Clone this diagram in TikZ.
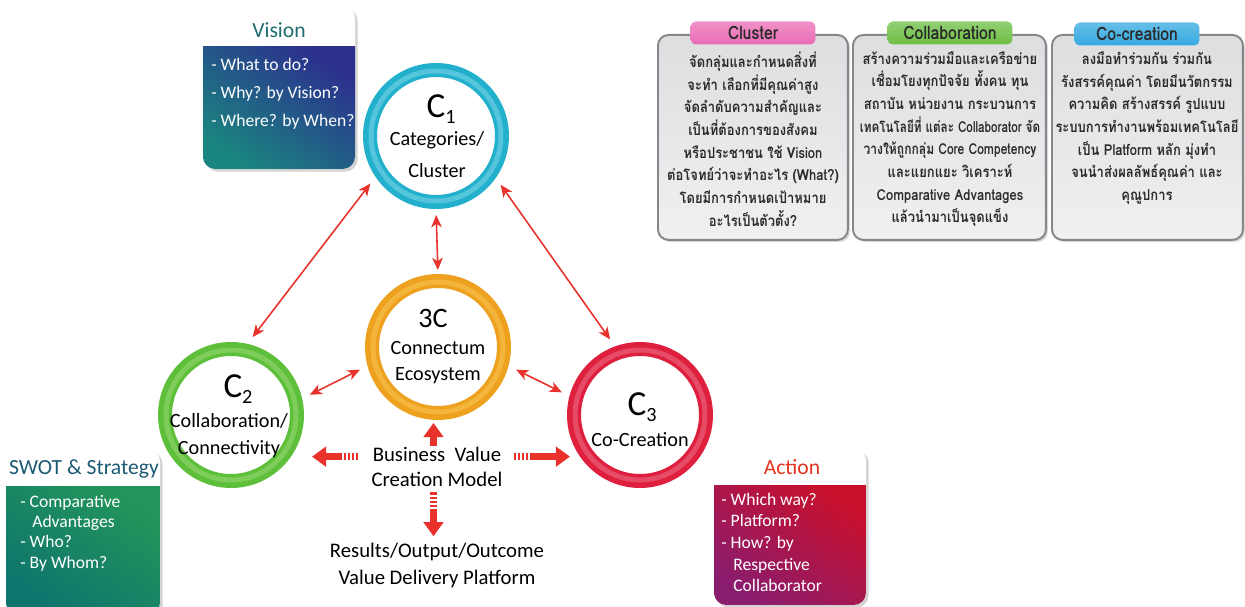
\documentclass[tikz,border=0pt]{standalone}
\usepackage{fontspec}
\setmainfont{Carlito}
\newfontfamily\thaifont[Script=Thai, FakeStretch=0.86]{Loma}
\usetikzlibrary{positioning,arrows.meta,shadows}

\definecolor{arrowred}{HTML}{E8322B}
\definecolor{cyanring}{HTML}{22B0CC}
\definecolor{cyanlight}{HTML}{7FD8EA}
\definecolor{orangering}{HTML}{EDA11E}
\definecolor{orangelight}{HTML}{FAC757}
\definecolor{greenring}{HTML}{5DBF3A}
\definecolor{greenlight}{HTML}{9AD874}
\definecolor{redring}{HTML}{DF1F3E}
\definecolor{redlight}{HTML}{EE7288}
\definecolor{visiontop}{HTML}{2C2F8E}
\definecolor{visionbot}{HTML}{1A8580}
\definecolor{visionhead}{HTML}{1F6D6F}
\definecolor{swottop}{HTML}{23955A}
\definecolor{swotbot}{HTML}{0E746E}
\definecolor{swothead}{HTML}{1D5A74}
\definecolor{actiontop}{HTML}{C8102C}
\definecolor{actionbot}{HTML}{8A1C6E}
\definecolor{actionhead}{HTML}{E4341E}
\definecolor{tabpink}{HTML}{EA6CB5}
\definecolor{tabgreen}{HTML}{6DBF43}
\definecolor{tabcyan}{HTML}{34A9E0}
\definecolor{panelfill}{HTML}{DDDEE0}
\definecolor{paneledge}{HTML}{85878A}
\definecolor{thaitext}{HTML}{2A2A2A}

\begin{document}
\begin{tikzpicture}[x=0.02cm, y=-0.02cm,
  ring/.style={circle, minimum size=2.64cm, line width=0.28cm, inner sep=0pt},
  ringglow/.style={line width=0.1cm, opacity=0.55},
  ringtxt/.style={font=\fontsize{11.5}{13}\selectfont, anchor=base, inner sep=0pt},
  link/.style={draw=arrowred, line width=0.9pt,
    {Stealth[length=7pt,width=6pt,inset=2pt]}-{Stealth[length=7pt,width=6pt,inset=2pt]},
    shorten <=0.17cm, shorten >=0.17cm},
  fatarrow/.style={draw=arrowred, line width=3.6pt, -{Triangle[length=8pt,width=11pt]},
    dash pattern=on 1.2pt off 1.2pt on 1.2pt off 1.2pt on 1.2pt off 1.2pt on 1.2pt off 1.2pt on 100pt off 0pt},
  midtxt/.style={font=\fontsize{11.8}{14}\selectfont, anchor=base, inner sep=0pt},
  infobox/.style={fill=white, rounded corners=7pt,
    drop shadow={shadow xshift=1.5pt, shadow yshift=-1.5pt, opacity=0.35}},
  infohead/.style={font=\fontsize{12.3}{14}\selectfont, anchor=base, inner sep=0pt},
  infoline/.style={font=\fontsize{10}{12}\selectfont, text=white, anchor=base west, inner sep=0pt},
  panel/.style={draw=paneledge, line width=1.1pt, rounded corners=6pt,
    top color=panelfill, bottom color=panelfill!45!white, anchor=north west,
    minimum height=4.1cm, drop shadow={shadow xshift=1.2pt, shadow yshift=-1.2pt, opacity=0.3}},
  tab/.style={minimum width=2.5cm, minimum height=0.46cm, rounded corners=3pt, inner sep=0pt,
    text=thaitext, font=\thaifont\bfseries\fontsize{10.5}{12}\selectfont},
  paneltxt/.style={font=\thaifont\bfseries\fontsize{8.6}{12.9}\selectfont, text=thaitext,
    align=center, inner sep=0pt},
]
\useasboundingbox (0,0) rectangle (1245,607);

% Info boxes
\path[infobox] (203,6) rectangle (355,169);
\begin{scope}
  \clip[rounded corners=7pt] (203,6) rectangle (355,169);
  \shade[top color=visiontop, bottom color=visionbot, shading angle=-35] (203,47) rectangle (355,169);
\end{scope}
\node[infohead, text=visionhead] (visionhd) at (279,38) {Vision};
\node[infoline] (vision1) at (211,71) {- What to do?};
\node[infoline] (vision2) at (211,99) {- Why? by Vision?};
\node[infoline] (vision3) at (211,127) {- Where? by When?};

\path[infobox] (6,449) rectangle (160,615);
\begin{scope}
  \clip[rounded corners=7pt] (6,449) rectangle (160,615);
  \shade[top color=swottop, bottom color=swotbot, shading angle=-35] (6,487) rectangle (160,615);
\end{scope}
\node[infohead, text=swothead] (swothd) at (84,475) {SWOT \& Strategy};
\node[infoline] (swot1) at (20,508) {- Comparative};
\node[infoline] (swot2) at (32,528) {Advantages};
\node[infoline] (swot3) at (20,548) {- Who?};
\node[infoline] (swot4) at (20,569) {- By Whom?};

\path[infobox] (714,448) rectangle (866,605);
\begin{scope}
  \clip[rounded corners=7pt] (714,448) rectangle (866,605);
  \shade[top color=actiontop, bottom color=actionbot, shading angle=-35] (714,486) rectangle (866,605);
\end{scope}
\node[infohead, text=actionhead] (actionhd) at (792,475) {Action};
\node[infoline] (action1) at (721,506) {- Which way?};
\node[infoline] (action2) at (721,527) {- Platform?};
\node[infoline] (action3) at (721,549) {- How? by};
\node[infoline] (action4) at (733,571) {Respective};
\node[infoline] (action5) at (733,592) {Collaborator};

% Thai panels
\node[panel, minimum width=3.8cm] (clusterpanel) at (657,34) {};
\node[panel, minimum width=3.86cm] (collabpanel) at (852,34) {};
\node[panel, minimum width=3.82cm] (copanel) at (1051,34) {};
\node[tab, top color=tabpink!75!white, bottom color=tabpink] (clustertab) at (753,33) {Cluster};
\node[tab, top color=tabgreen!75!white, bottom color=tabgreen] (collabtab) at (950,33) {Collaboration};
\node[tab, top color=tabcyan!75!white, bottom color=tabcyan] (cotab) at (1137,34) {Co-creation};

\node[paneltxt] (clustertxt) at (753,139) {จัดกลุ่มและกำหนดสิ่งที่\\ จะทำ เลือกที่มีคุณค่าสูง\\
  จัดลำดับความสำคัญและ\\ เป็นที่ต้องการของสังคม\\ หรือประชาชน ใช้ Vision\\
  ต่อโจทย์ว่าจะทำอะไร (What?)\\ โดยมีการกำหนดเป้าหมาย\\ อะไรเป็นตัวตั้ง?};
\node[paneltxt] (collabtxt) at (950,139) {สร้างความร่วมมือและเครือข่าย\\ เชื่อมโยงทุกปัจจัย ทั้งคน ทุน\\
  สถาบัน หน่วยงาน กระบวนการ\\ \scalebox{0.9}[1]{เทคโนโลยีที่ แต่ละ Collaborator จัด}\\
  \scalebox{0.93}[1]{วางให้ถูกกลุ่ม Core Competency}\\
  และแยกแยะ วิเคราะห์\\ Comparative Advantages\\ แล้วนำมาเป็นจุดแข็ง};
\node[paneltxt] (cotxt) at (1147,128) {ลงมือทำร่วมกัน ร่วมกัน\\ รังสรรค์คุณค่า โดยมีนวัตกรรม\\
  ความคิด สร้างสรรค์ รูปแบบ\\ ระบบการทำงานพร้อมเทคโนโลยี\\ เป็น Platform หลัก มุ่งทำ\\
  จนนำส่งผลลัพธ์คุณค่า และ\\ คุณูปการ};

% Rings
\node[ring, draw=cyanring] (c1) at (436,136) {};
\node[ring, draw=orangering] (cc) at (438,347) {};
\node[ring, draw=greenring] (c2) at (231,415) {};
\node[ring, draw=redring] (c3) at (640,415) {};
\draw[ringglow, cyanlight] (c1.center) circle[radius=1.3cm];
\draw[ringglow, orangelight] (cc.center) circle[radius=1.3cm];
\draw[ringglow, greenlight] (c2.center) circle[radius=1.3cm];
\draw[ringglow, redlight] (c3.center) circle[radius=1.3cm];

% Ring labels
\node[ringtxt] (c1num) at (441,118) {{\fontsize{20}{20}\selectfont C}\raisebox{-3pt}{1}};
\node[ringtxt] (c1l1) at (437,146) {Categories/};
\node[ringtxt] (c1l2) at (437,178) {Cluster};
\node[ringtxt] (ccnum) at (433,328) {\fontsize{16}{16}\selectfont 3C};
\node[ringtxt] (ccl1) at (438,355) {Connectum};
\node[ringtxt] (ccl2) at (438,381) {Ecosystem};
\node[ringtxt] (c2num) at (238,398) {{\fontsize{20}{20}\selectfont C}\raisebox{-3pt}{2}};
\node[ringtxt] (c2l1) at (229,428) {Collaboration/};
\node[ringtxt] (c2l2) at (229,455) {Connectivity};
\node[ringtxt] (c3num) at (642,416) {{\fontsize{20}{20}\selectfont C}\raisebox{-3pt}{3}};
\node[ringtxt] (c3l1) at (640,447) {Co-Creation};

% Links between rings
\draw[link] (c1.214) -- (c2.77);
\draw[link] (c1.-35) -- (c3.110);
\draw[link, shorten <=0.12cm, shorten >=0.08cm] (c1.south) -- (cc.north);
\draw[link] (cc.195) -- (c2.13);
\draw[link] (cc.-15) -- (c3.165);

% Business value model
\node[midtxt] (bvm1) at (437,462) {Business\ \ Value};
\node[midtxt] (bvm2) at (437,487) {Creation Model};
\node[midtxt] (res1) at (437,558) {Results/Output/Outcome};
\node[midtxt] (res2) at (437,585) {Value Delivery Platform};

\draw[fatarrow, shorten <=0.28cm, shorten >=0.16cm] ([yshift=-1pt]bvm1.west) -- ([yshift=-1pt]c2.east |- bvm1.west);
\draw[fatarrow, shorten <=0.24cm, shorten >=-0.06cm] ([yshift=-1pt]bvm1.east) -- ([yshift=-1pt]c3.west |- bvm1.east);
\draw[fatarrow, dash pattern=on 100pt off 0pt, shorten <=0.02cm, shorten >=0.06cm] ([xshift=-2pt]bvm1.north) -- ([xshift=-2pt]bvm1.north |- cc.south);
\draw[fatarrow, shorten <=0.1cm, shorten >=0.14cm] ([xshift=-2pt]bvm2.south) -- ([xshift=-2pt]res1.north);
\end{tikzpicture}
\end{document}
